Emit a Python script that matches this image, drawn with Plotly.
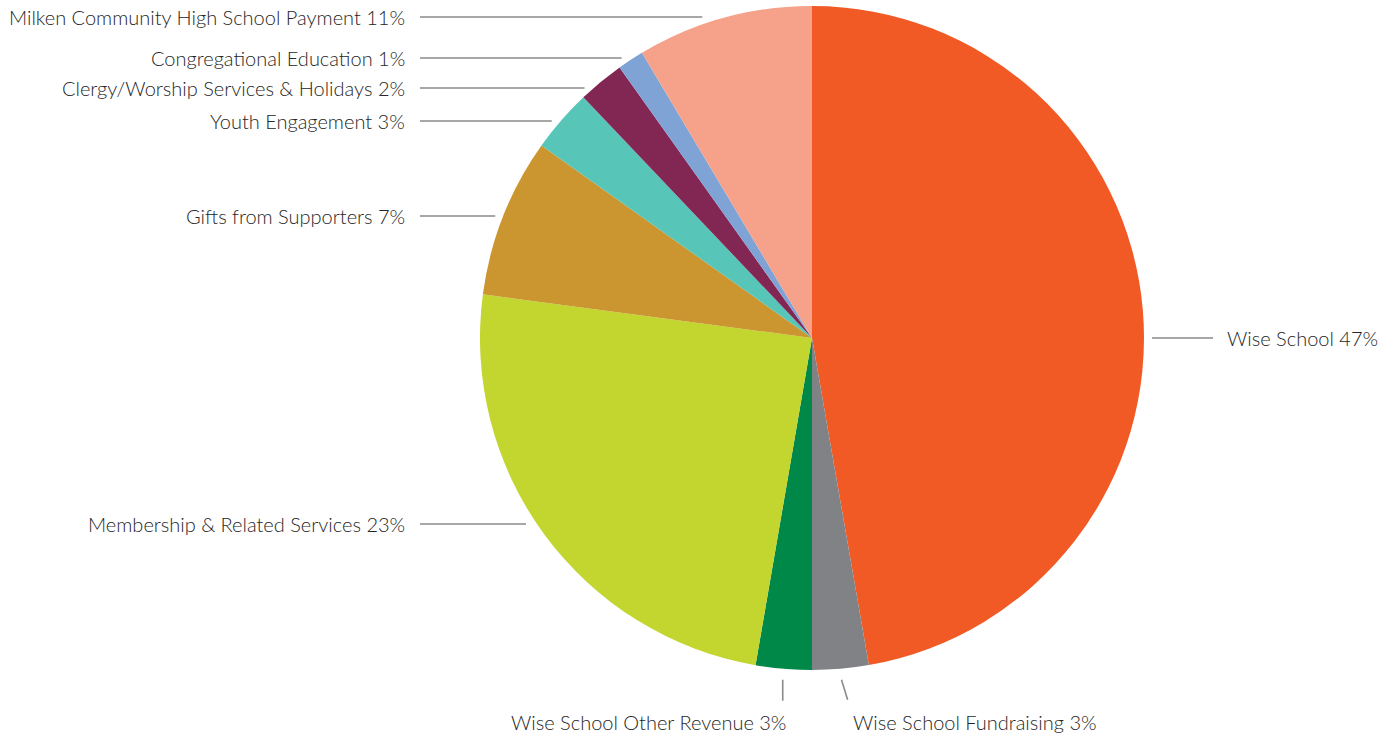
import math
import plotly.graph_objects as go

# ---------------- data ----------------
categories = [
    "Wise School",
    "Wise School Fundraising",
    "Wise School Other Revenue",
    "Membership & Related Services",
    "Gifts from Supporters",
    "Youth Engagement",
    "Clergy/Worship Services & Holidays",
    "Congregational Education",
    "Milken Community High School Payment",
]
values = [47.26, 2.74, 2.72, 24.38, 7.74, 3.07, 2.25, 1.28, 8.56]
printed_pct = ["47%", "3%", "3%", "23%", "7%", "3%", "2%", "1%", "11%"]
colors = ["#F15A24", "#808285", "#008848", "#C3D52F", "#CB962F",
          "#57C5B8", "#822753", "#7EA3D4", "#F6A189"]

# ---------------- layout constants (page pixels) ----------------
W, H = 1396, 741
cx, cy, R = 812, 338, 332
FONT = dict(family="Lato", size=20, color="#262626", weight=300)
LINE = dict(color="#8a8a8a", width=1.6)

# label placement: side, label y (px) or tilt (deg), gap to pie edge
placement = {
    "Wise School": ("right", 338, 8),
    "Wise School Fundraising": ("bottom", 17, 0),
    "Wise School Other Revenue": ("bottom", 0, 0),
    "Membership & Related Services": ("left", 524, 11),
    "Gifts from Supporters": ("left", 216, 8),
    "Youth Engagement": ("left", 121, 9),
    "Clergy/Worship Services & Holidays": ("left", 88, 9),
    "Congregational Education": ("left", 58, 12),
    "Milken Community High School Payment": ("left", 17, 25),
}


def clamp(v):
    return min(max(v, 0.0), 1.0)


fig = go.Figure()
fig.add_trace(go.Pie(
    labels=categories, values=values, sort=False, direction="clockwise",
    rotation=0, marker=dict(colors=colors, line=dict(width=0)),
    textinfo="none", hoverinfo="skip", showlegend=False,
    domain=dict(x=[clamp((cx - R) / W), clamp((cx + R) / W)],
                y=[clamp((H - cy - R) / H), clamp((H - cy + R) / H)]),
))

shapes, annotations = [], []
total = sum(values)
cum = 0.0
for cat, v, pct in zip(categories, values, printed_pct):
    mid = (cum + v / 2) / total * 2 * math.pi  # clockwise from 12 o'clock
    cum += v
    side, p, gap = placement[cat]
    text = f"{cat} {pct}"
    if side == "left":
        y = p
        edge = cx - math.sqrt(max(R * R - (y - cy) ** 2, 0))
        shapes.append(dict(type="line", xref="x", yref="y", x0=420, x1=edge - gap,
                           y0=y, y1=y, line=LINE))
        annotations.append(dict(x=407, y=y, xref="x", yref="y", text=text,
                                showarrow=False, xanchor="right", yanchor="middle",
                                font=FONT))
    elif side == "right":
        y = p
        edge = cx + math.sqrt(max(R * R - (y - cy) ** 2, 0))
        shapes.append(dict(type="line", xref="x", yref="y", x0=edge + gap, x1=1213,
                           y0=y, y1=y, line=LINE))
        annotations.append(dict(x=1225, y=y, xref="x", yref="y", text=text,
                                showarrow=False, xanchor="left", yanchor="middle",
                                font=FONT))
    else:
        r0 = R + 11
        x0 = cx + r0 * math.sin(mid)
        y0 = cy - r0 * math.cos(mid)
        tilt = math.radians(p)
        x1 = x0 + 21 * math.sin(tilt)
        y1 = y0 + 21 * math.cos(tilt)
        shapes.append(dict(type="line", xref="x", yref="y", x0=x0, x1=x1,
                           y0=y0, y1=y1, line=LINE))
        if x0 < cx:
            annotations.append(dict(x=x1 + 5, y=722, xref="x", yref="y", text=text,
                                    showarrow=False, xanchor="right", yanchor="middle",
                                    font=FONT))
        else:
            annotations.append(dict(x=x1 + 3, y=722, xref="x", yref="y", text=text,
                                    showarrow=False, xanchor="left", yanchor="middle",
                                    font=FONT))

fig.update_layout(
    width=W, height=H,
    margin=dict(l=0, r=0, t=0, b=0),
    paper_bgcolor="white", plot_bgcolor="rgba(0,0,0,0)",
    xaxis=dict(range=[0, W], visible=False, fixedrange=True),
    yaxis=dict(range=[H, 0], visible=False, fixedrange=True),
    shapes=shapes, annotations=annotations,
    hovermode=False,
)

fig.write_html(
    "out.html",
    config={"displayModeBar": False},
    post_script="document.body.style.margin='0';document.body.style.overflow='hidden';",
)
